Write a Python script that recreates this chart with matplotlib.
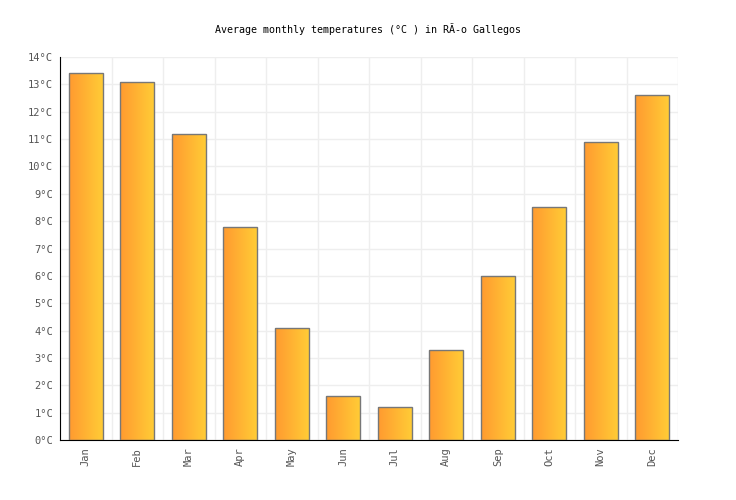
import numpy as np
import matplotlib.pyplot as plt
from matplotlib.colors import LinearSegmentedColormap

months = ['Jan', 'Feb', 'Mar', 'Apr', 'May', 'Jun', 'Jul', 'Aug', 'Sep', 'Oct', 'Nov', 'Dec']
temps = [13.4, 13.1, 11.2, 7.8, 4.1, 1.6, 1.2, 3.3, 6.0, 8.5, 10.9, 12.6]
yticks = list(range(0, 15))
ylabels = ['%d°C' % t for t in yticks]

plt.rcParams['font.family'] = ['DejaVu Sans Mono']

fig = plt.figure(figsize=(7.36, 5), dpi=100)
ax = fig.add_axes([60/736, 60/500, 618/736, 383/500])

x = np.arange(len(months))
bars = ax.bar(x, temps, width=0.66, color='none', edgecolor='#777777', linewidth=1, zorder=3)

# horizontal gradient inside each bar
cmap = LinearSegmentedColormap.from_list('og', ['#ff9a30', '#ffcc36'])
grad = np.linspace(0, 1, 256).reshape(1, -1)
for b in bars:
    x0, w, h = b.get_x(), b.get_width(), b.get_height()
    im = ax.imshow(grad, cmap=cmap, aspect='auto', extent=[x0, x0 + w, 0, h], zorder=2)
    im.set_clip_path(b)

ax.set_xlim(-0.5, len(months) - 0.5)
ax.set_ylim(0, 14)
ax.set_xticks(x)
ax.set_xticklabels(months, rotation=90, fontsize=7.5, color='#555555')
ax.set_yticks(yticks)
ax.set_yticklabels(ylabels, fontsize=7.5, color='#555555')
ax.set_xticks(np.arange(-0.5, len(months)), minor=True)
ax.grid(True, which='major', axis='y', color='#eeeeee', linewidth=1, zorder=0)
ax.grid(True, which='minor', axis='x', color='#eeeeee', linewidth=1, zorder=0)
ax.tick_params(axis='both', which='both', length=0, pad=5)
for s in ['top', 'right']:
    ax.spines[s].set_visible(False)
ax.spines['left'].set_color('black')
ax.spines['bottom'].set_color('black')

fig.text(0.5, 1 - 29/500, 'Average monthly temperatures (°C ) in RÃ\u00ado Gallegos',
         ha='center', va='center', fontsize=7.2, color='black')

fig.savefig('out.png', dpi=100)
